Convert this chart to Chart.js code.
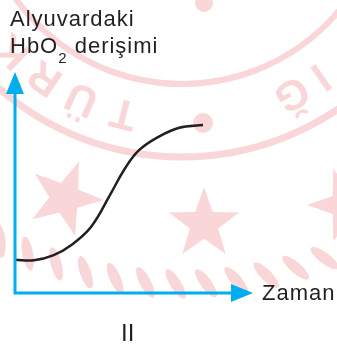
<!DOCTYPE html>
<html>
<head>
<meta charset="utf-8">
<script src="https://cdn.jsdelivr.net/npm/chart.js@4"></script>
<style>
  html, body { margin: 0; padding: 0; background: #fff; }
  #wrap { width: 337px; height: 347px; }
</style>
</head>
<body>
<div id="wrap"><canvas id="chart" width="337" height="347"></canvas></div>
<script>
// time (x) and HbO2 concentration (y) on a 0..10 unit axis
const time = [0, 0.8, 1.6, 2.4, 3.2, 4.0, 4.6, 5.2, 6.0, 6.9, 7.9];
const conc = [1.5, 1.48, 1.7, 2.2, 3.0, 4.45, 5.6, 6.45, 7.05, 7.48, 7.6];

const yTitle = ['Alyuvardaki', 'HbO', '2', ' derişimi'];
const xTitle = 'Zaman';
const panelLabel = 'II';

const AXIS_BLUE = '#00aeef';
const INK = '#231f20';
const PINK = '#f9d6d8';
const FONT = "'Liberation Sans', Arial, sans-serif";

function star(ctx, cx, cy, r, rotDeg) {
    const inner = r * 0.4;
    ctx.beginPath();
    for (let i = 0; i < 10; i++) {
        const a = (rotDeg + i * 36) * Math.PI / 180;
        const rr = i % 2 === 0 ? r : inner;
        const px = cx + rr * Math.cos(a), py = cy + rr * Math.sin(a);
        if (i === 0) ctx.moveTo(px, py); else ctx.lineTo(px, py);
    }
    ctx.closePath();
    ctx.fill();
}

// faint stamp behind the plot
function drawStamp(ctx) {
    const cx = 182, cy = -121;
    ctx.save();
    ctx.strokeStyle = PINK;
    ctx.fillStyle = PINK;

    ctx.lineWidth = 6;
    ctx.beginPath(); ctx.arc(cx, cy, 205, 0, Math.PI); ctx.stroke();
    ctx.lineWidth = 7;
    ctx.beginPath(); ctx.arc(cx, cy, 278, 0, Math.PI); ctx.stroke();

    // lettering around the ring, tops facing outward
    ctx.font = 'bold 42px ' + FONT;
    ctx.textAlign = 'center';
    ctx.textBaseline = 'middle';
    const letters = [['T', 104], ['Ü', 114.5], ['R', 124.5], ['K', 134.5], ['Ğ', 63], ['I', 55]];
    letters.forEach(([ch, deg]) => {
        const a = deg * Math.PI / 180;
        ctx.save();
        ctx.translate(cx + 240 * Math.cos(a), cy + 240 * Math.sin(a));
        ctx.rotate(a + Math.PI / 2);
        ctx.fillText(ch, 0, 0);
        ctx.restore();
    });

    [[203, 123, 10], [204, 3, 9]].forEach(([x, y, r]) => {
        ctx.beginPath(); ctx.arc(x, y, r, 0, Math.PI * 2); ctx.fill();
    });

    star(ctx, 65, 198, 39, 3);
    star(ctx, 204, 224, 37, -90);
    star(ctx, 345, 205, 38, 180);

    // twisted rope along the outer rim
    for (let deg = 121; deg >= 55; deg -= 4.3) {
        const a = deg * Math.PI / 180;
        ctx.save();
        ctx.translate(cx + 405 * Math.cos(a), cy + 405 * Math.sin(a));
        ctx.rotate(a - Math.PI / 2 + 1.0);
        ctx.beginPath();
        ctx.ellipse(0, 0, 17, 5.5, 0, 0, Math.PI * 2);
        ctx.fill();
        ctx.restore();
    }
    ctx.restore();
}

const sketchPlugin = {
    id: 'sketch',
    beforeDraw(chart) {
        const ctx = chart.ctx;
        ctx.save();
        ctx.fillStyle = '#fff';
        ctx.fillRect(0, 0, chart.width, chart.height);
        ctx.restore();
        drawStamp(ctx);
    },
    afterDraw(chart) {
        const ctx = chart.ctx;
        const { left, right, top, bottom } = chart.chartArea;
        ctx.save();
        ctx.strokeStyle = AXIS_BLUE;
        ctx.fillStyle = AXIS_BLUE;
        ctx.lineWidth = 3;
        ctx.beginPath();
        ctx.moveTo(left, top + 18);
        ctx.lineTo(left, bottom);
        ctx.lineTo(right - 18, bottom);
        ctx.stroke();
        // arrow heads
        ctx.beginPath();
        ctx.moveTo(left, top);
        ctx.lineTo(left - 9, top + 22);
        ctx.lineTo(left + 9, top + 22);
        ctx.closePath();
        ctx.fill();
        ctx.beginPath();
        ctx.moveTo(right, bottom);
        ctx.lineTo(right - 22, bottom - 9);
        ctx.lineTo(right - 22, bottom + 9);
        ctx.closePath();
        ctx.fill();

        ctx.fillStyle = INK;
        ctx.textBaseline = 'alphabetic';
        ctx.textAlign = 'left';
        ctx.letterSpacing = '1px';
        ctx.font = '22px ' + FONT;
        ctx.fillText(yTitle[0], 10, 26);
        ctx.fillText(yTitle[1], 10, 53);
        let x = 10 + ctx.measureText(yTitle[1]).width;
        ctx.font = '15px ' + FONT;
        ctx.fillText(yTitle[2], x, 63);
        x += ctx.measureText(yTitle[2]).width;
        ctx.font = '22px ' + FONT;
        ctx.fillText(yTitle[3], x, 53);
        ctx.fillText(xTitle, 262, 300);
        ctx.letterSpacing = '0px';
        ctx.font = '24px ' + FONT;
        ctx.fillText(panelLabel, 121, 341);
        ctx.restore();
    }
};

new Chart(document.getElementById('chart'), {
    type: 'line',
    data: {
        datasets: [{
            data: time.map((t, i) => ({ x: t, y: conc[i] })),
            borderColor: INK,
            borderWidth: 2.5,
            pointRadius: 0,
            fill: false,
            tension: 0.4
        }]
    },
    options: {
        responsive: false,
        animation: false,
        devicePixelRatio: 1,
        layout: { padding: { left: 15, right: 84, top: 72, bottom: 54 } },
        scales: {
            x: { type: 'linear', min: 0, max: 10, display: false },
            y: { type: 'linear', min: 0, max: 10, display: false }
        },
        plugins: { legend: { display: false }, tooltip: { enabled: false } }
    },
    plugins: [sketchPlugin]
});
</script>
</body>
</html>
